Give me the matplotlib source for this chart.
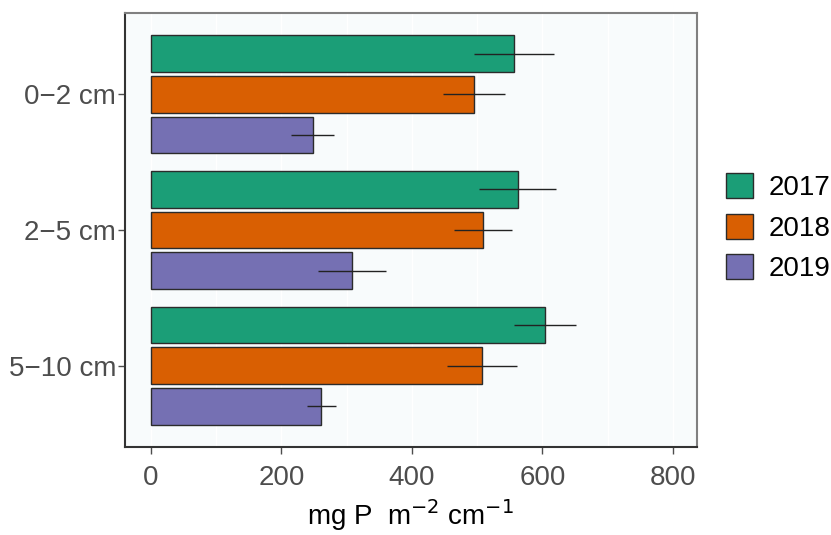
import numpy as np
import matplotlib.pyplot as plt
from matplotlib.patches import Patch

plt.rcParams['font.family'] = ['Liberation Sans', 'DejaVu Sans']

depths = ['0\u22122 cm', '2\u22125 cm', '5\u221210 cm']
years = ['2017', '2018', '2019']
colors = ['#1B9E77', '#D95F02', '#7570B3']

# mean and error half-width per year, across depths
means = {
    '2017': [556, 562, 604],
    '2018': [495, 509, 507],
    '2019': [248, 308, 261],
}
errs = {
    '2017': [61, 59, 48],
    '2018': [48, 45, 54],
    '2019': [33, 52, 22],
}

fig = plt.figure(figsize=(8.31, 5.35), dpi=100)
ax = fig.add_axes([0.150, 0.1645, 0.689, 0.811])
ax.set_facecolor('#f8fbfc')

y = np.arange(len(depths))
step = 0.30
h = 0.27
for i, yr in enumerate(years):
    pos = y + (i - 1) * step
    ax.barh(pos, means[yr], height=h, color=colors[i], edgecolor='#2b2b2b',
            linewidth=1, zorder=2)
    ax.errorbar(means[yr], pos, xerr=errs[yr], fmt='none', ecolor='#222222',
                elinewidth=1, capsize=0, zorder=3)

ax.set_xlim(-40, 837)
ax.set_ylim(2.6, -0.6)
ax.set_yticks(y)
ax.set_yticklabels(depths)
ax.set_xticks([0, 200, 400, 600, 800])
ax.set_xticks([100, 300, 500, 700], minor=True)
ax.grid(True, which='both', axis='x', color='white', linewidth=1, zorder=0)
ax.tick_params(axis='both', which='major', labelsize=20, colors='#4d4d4d',
               length=5, width=1)
ax.tick_params(axis='x', which='minor', length=0)
ax.tick_params(axis='x', pad=8)
ax.tick_params(axis='y', pad=1)

for s in ['left', 'bottom']:
    ax.spines[s].set_color('#333333')
    ax.spines[s].set_linewidth(1.5)
for s in ['top', 'right']:
    ax.spines[s].set_color('#808080')
    ax.spines[s].set_linewidth(1.5)

ax.set_xlabel(r'mg P  m$^{-2}$ cm$^{-1}$', fontsize=20, labelpad=4)

handles = [Patch(facecolor=c, edgecolor='#2b2b2b', linewidth=1) for c in colors]
fig.legend(handles, years, loc='center left', bbox_to_anchor=(0.843, 0.574),
           frameon=False, fontsize=20, handlelength=1.0, handleheight=1.0,
           labelspacing=0.45, handletextpad=0.55)

fig.savefig('out.png', dpi=100)
